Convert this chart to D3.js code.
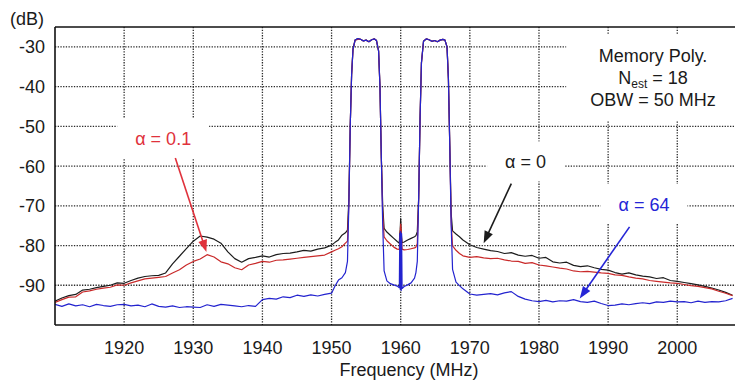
<!DOCTYPE html>
<html>
<head>
<meta charset="utf-8">
<script src="https://cdn.jsdelivr.net/npm/d3@7"></script>
<style>
  html, body { margin: 0; padding: 0; background: #fff; }
  svg text { font-family: "Liberation Sans", Arial, sans-serif; }
</style>
</head>
<body>
<svg id="chart" width="735" height="382"></svg>
<script>
// Frequency points (MHz): lower adjacent band, the two carriers, upper adjacent band
const freqLow = [
  1910, 1911, 1912, 1913, 1914, 1915, 1916, 1917, 1918, 1919,
  1920, 1921, 1922, 1923, 1924, 1925, 1926, 1927, 1928, 1929,
  1930, 1931, 1932, 1933, 1934, 1935, 1936, 1937, 1938, 1939,
  1940, 1941, 1942, 1943, 1944, 1945, 1946, 1947, 1948, 1949,
  1950
];
const freqCarrier = [
  1950.5, 1951, 1951.5, 1952, 1952.3, 1952.5, 1952.7, 1952.9, 1953.1, 1953.4,
  1953.8, 1954.2, 1954.6, 1955, 1955.4, 1955.8, 1956.2, 1956.5, 1956.8, 1957,
  1957.2, 1957.4, 1957.6, 1958, 1958.5, 1959, 1959.5, 1959.8, 1959.87, 1959.93,
  1960, 1960.07, 1960.13, 1960.2, 1960.5, 1961, 1961.5, 1962, 1962.2, 1962.4,
  1962.6, 1962.8, 1963, 1963.3, 1963.7, 1964.1, 1964.5, 1964.9, 1965.3, 1965.7,
  1966.1, 1966.4, 1966.7, 1966.9, 1967.1, 1967.3, 1967.5, 1968, 1968.5, 1969
];
const freqHigh = [
  1970, 1971, 1972, 1973, 1974, 1975, 1976, 1977, 1978, 1979,
  1980, 1981, 1982, 1983, 1984, 1985, 1986, 1987, 1988, 1989,
  1990, 1991, 1992, 1993, 1994, 1995, 1996, 1997, 1998, 1999,
  2000, 2001, 2002, 2003, 2004, 2005, 2006, 2007, 2008
];

// alpha = 0 (black)
const alpha0Low = [
  -94.0, -93.2, -92.6, -92.3, -91.2, -91.0, -90.6, -90.3, -90.0, -89.4,
  -89.5, -88.8, -88.2, -87.8, -87.6, -87.5, -86.9, -84.6, -82.7, -80.8,
  -78.9, -77.6, -77.9, -78.4, -79.4, -81.6, -83.3, -84.2, -83.3, -83.0,
  -82.6, -82.9, -82.3, -82.0, -81.9, -81.6, -81.2, -81.4, -80.9, -80.6,
  -79.9
];
const alpha0Carrier = [
  -79.2, -78.6, -77.4, -76.8, -76.1, -68.5, -50.0, -37.0, -30.6, -28.3,
  -27.9, -28.1, -28.5, -28.3, -28.7, -28.2, -28.0, -28.4, -31.0, -40.0,
  -58.0, -70.0, -75.7, -76.6, -77.4, -78.2, -79.0, -79.4, -77.0, -76.0,
  -73.2, -76.5, -78.0, -79.3, -79.1, -78.6, -78.2, -77.8, -77.5, -76.5,
  -68.0, -48.0, -34.0, -28.6, -28.0, -28.2, -28.6, -28.4, -28.7, -28.3,
  -28.1, -28.3, -30.0, -38.0, -55.0, -72.0, -76.3, -77.1, -77.8, -78.6
];
const alpha0High = [
  -79.8, -80.5, -80.9, -81.3, -81.5, -82.0, -81.8, -82.4, -82.7, -82.5,
  -83.2, -83.0, -84.1, -84.4, -84.2, -85.0, -85.3, -85.1, -85.6, -86.0,
  -86.2, -86.8, -87.2, -86.9, -87.4, -87.7, -87.9, -88.3, -88.1, -88.8,
  -89.0, -89.3, -89.6, -89.9, -90.3, -90.7, -91.2, -91.8, -92.5
];

// alpha = 0.1 (red)
const alpha01Low = [
  -94.3, -93.6, -93.0, -92.9, -91.7, -91.4, -91.0, -90.7, -90.5, -89.9,
  -90.0, -89.4, -88.9, -88.4, -88.2, -88.0, -87.8, -86.9, -86.1, -84.9,
  -84.0, -83.4, -82.3, -82.9, -84.1, -84.6, -85.6, -86.1, -84.9, -84.5,
  -84.0, -84.2, -83.7, -83.6, -83.4, -83.2, -83.0, -82.8, -82.6, -82.4,
  -81.6
];
const alpha01Carrier = [
  -81.2, -80.8, -80.3, -79.4, -78.9, -69.5, -50.0, -37.0, -30.6, -28.3,
  -28.1, -28.1, -28.5, -28.3, -28.7, -28.2, -28.0, -28.4, -31.0, -40.0,
  -58.0, -72.0, -77.8, -78.8, -79.6, -80.4, -80.9, -81.0, -78.0, -76.5,
  -74.6, -76.5, -78.5, -80.9, -81.1, -81.0, -80.8, -80.6, -80.4, -79.5,
  -68.0, -48.0, -34.0, -28.6, -28.0, -28.2, -28.6, -28.4, -28.7, -28.3,
  -28.1, -28.3, -30.0, -38.0, -55.0, -74.0, -80.1, -81.2, -82.0, -82.6
];
const alpha01High = [
  -83.0, -82.8, -83.1, -83.3, -83.2, -83.6, -83.9, -84.0, -84.5, -84.3,
  -84.9, -85.1, -85.4, -85.7, -85.9, -86.4, -86.6, -86.5, -86.7, -86.9,
  -87.0, -87.4, -87.5, -87.9, -88.2, -88.4, -88.8, -89.0, -89.2, -89.4,
  -89.5, -89.8, -90.1, -90.3, -90.6, -90.9, -91.5, -92.0, -92.6
];

// alpha = 64 (blue)
const alpha64Low = [
  -94.8, -95.3, -94.7, -95.2, -94.9, -95.4, -94.8, -95.1, -95.3, -94.9,
  -94.8, -95.2, -95.0, -95.4, -94.7, -95.3, -95.5, -95.2, -95.6, -95.4,
  -95.5, -95.6, -94.9, -95.3, -94.8, -95.0, -95.2, -95.4, -95.1, -95.3,
  -93.6, -93.3, -93.5, -92.9, -93.1, -92.5, -92.8, -92.4, -92.7, -92.3,
  -92.0
];
const alpha64Carrier = [
  -90.2, -88.7, -88.1, -86.8, -84.0, -70.0, -50.0, -37.0, -30.6, -28.3,
  -27.9, -28.1, -28.5, -28.3, -28.7, -28.2, -28.0, -28.4, -31.0, -40.0,
  -58.0, -75.0, -86.4, -88.9, -89.6, -89.9, -90.2, -90.6, -77.0, -91.0,
  -76.5, -91.3, -77.0, -90.8, -90.3, -89.9, -89.4, -88.2, -86.8, -84.0,
  -68.0, -48.0, -34.0, -28.6, -28.0, -28.2, -28.6, -28.4, -28.7, -28.3,
  -28.1, -28.3, -30.0, -38.0, -55.0, -75.0, -86.0, -89.2, -90.1, -90.9
];
const alpha64High = [
  -92.2, -92.5, -92.3, -92.1, -92.4, -91.9, -91.6, -92.8, -93.5, -93.9,
  -94.1, -93.8, -94.2, -93.9, -94.0, -93.6, -94.1, -94.3, -94.0, -94.6,
  -95.1, -95.0, -94.7, -94.9, -94.6, -94.4, -94.6, -94.2, -94.3, -94.0,
  -94.2, -94.1, -94.4, -94.0, -94.3, -94.1, -94.2, -93.9, -93.3
];

const xTicks = [1920, 1930, 1940, 1950, 1960, 1970, 1980, 1990, 2000];
const yTicks = [-30, -40, -50, -60, -70, -80, -90];

const freqs = freqLow.concat(freqCarrier, freqHigh);
const series = [
  { key: "a0", color: "#1c1c1c", values: alpha0Low.concat(alpha0Carrier, alpha0High) },
  { key: "a01", color: "#c92a2a", values: alpha01Low.concat(alpha01Carrier, alpha01High) },
  { key: "a64", color: "#2323cf", values: alpha64Low.concat(alpha64Carrier, alpha64High) },
];

// Annotation labels with arrows (positions in data units)
const notes = [
  { text: "α = 0.1", color: "#e0323c", at: [1921.6, -54.7], from: [1927.4, -58.0], to: [1931.9, -81.6] },
  { text: "α = 0", color: "#1c1c1c", at: [1975.1, -60.6], from: [1976.0, -64.4], to: [1972.0, -79.4] },
  { text: "α = 64", color: "#2525d6", at: [1991.5, -71.3], from: [1993.1, -75.3], to: [1985.9, -93.3] },
];

const svg = d3.select("#chart");
const margin = { left: 55, top: 27, right: 735, bottom: 325 };

const x = d3.scaleLinear().domain([1910, 2008.35]).range([margin.left, margin.right]);
const y = d3.scaleLinear().domain([-100, -25]).range([margin.bottom, margin.top]);

svg.append("defs").append("clipPath").attr("id", "plot")
  .append("rect")
  .attr("x", margin.left).attr("y", margin.top)
  .attr("width", margin.right - margin.left).attr("height", margin.bottom - margin.top);

// Dotted grid
const grid = svg.append("g").attr("stroke", "#2a2a2a").attr("stroke-width", 1.3)
  .attr("stroke-dasharray", "1.3,1.4");
grid.selectAll(".vx").data(xTicks).join("line")
  .attr("x1", d => x(d)).attr("x2", d => x(d))
  .attr("y1", margin.top).attr("y2", margin.bottom);
grid.selectAll(".hy").data(yTicks).join("line")
  .attr("x1", margin.left).attr("x2", margin.right)
  .attr("y1", d => y(d)).attr("y2", d => y(d));

// Layer for white boxes behind annotations (they cut the grid)
const boxes = svg.append("g");

// Spectrum traces
const line = d3.line()
  .x((d, i) => x(freqs[i]))
  .y(d => y(d));
svg.append("g").attr("clip-path", "url(#plot)")
  .selectAll("path").data(series).join("path")
  .attr("fill", "none")
  .attr("stroke", d => d.color)
  .attr("stroke-width", 1.2)
  .attr("stroke-linejoin", "round")
  .attr("d", d => line(d.values));

// Frame
const frame = svg.append("g").attr("stroke", "#111").attr("stroke-width", 1.6);
frame.append("line").attr("x1", margin.left).attr("x2", margin.left)
  .attr("y1", margin.top).attr("y2", margin.bottom);
frame.append("line").attr("x1", margin.left).attr("x2", margin.right)
  .attr("y1", margin.top).attr("y2", margin.top);
frame.append("line").attr("x1", margin.left).attr("x2", margin.right)
  .attr("y1", margin.bottom).attr("y2", margin.bottom);

// Tick labels
svg.append("g").selectAll("text").data(yTicks).join("text")
  .attr("x", 45).attr("y", d => y(d) + 6.5)
  .attr("text-anchor", "end").attr("font-size", 18).attr("fill", "#1a1a1a")
  .text(d => d);
svg.append("g").selectAll("text").data(xTicks).join("text")
  .attr("x", d => x(d)).attr("y", 354)
  .attr("text-anchor", "middle").attr("font-size", 18).attr("fill", "#1a1a1a")
  .text(d => d);

svg.append("text").attr("x", 10).attr("y", 25).attr("font-size", 18).attr("fill", "#1a1a1a")
  .text("(dB)");
svg.append("text").attr("x", 409).attr("y", 376).attr("text-anchor", "middle")
  .attr("font-size", 18).attr("fill", "#1a1a1a")
  .text("Frequency (MHz)");

// Arrows
function arrow(g, from, to, color) {
  const x0 = x(from[0]), y0 = y(from[1]), x1 = x(to[0]), y1 = y(to[1]);
  const len = Math.hypot(x1 - x0, y1 - y0);
  const ux = (x1 - x0) / len, uy = (y1 - y0) / len;
  const hl = 12, hw = 4.5;
  const bx = x1 - ux * hl, by = y1 - uy * hl;
  g.append("line").attr("x1", x0).attr("y1", y0).attr("x2", bx + ux * 2).attr("y2", by + uy * 2)
    .attr("stroke", color).attr("stroke-width", 1.6);
  g.append("path")
    .attr("d", `M${x1},${y1}L${bx - uy * hw},${by + ux * hw}L${bx + uy * hw},${by - ux * hw}Z`)
    .attr("fill", color);
}

const ann = svg.append("g");
notes.forEach(n => {
  const t = ann.append("text")
    .attr("x", x(n.at[0])).attr("y", y(n.at[1]))
    .attr("font-size", 18).attr("fill", n.color)
    .text(n.text);
  const b = t.node().getBBox();
  boxes.append("rect")
    .attr("x", b.x - 18).attr("y", b.y - 11)
    .attr("width", b.width + 36).attr("height", b.height + 20)
    .attr("fill", "#fff");
  arrow(ann, n.from, n.to, n.color);
});

// Info block
const info = ann.append("g").attr("font-size", 18).attr("fill", "#1a1a1a").attr("text-anchor", "middle");
info.append("text").attr("x", 653).attr("y", 61.5).text("Memory Poly.");
const nest = info.append("text").attr("x", 653).attr("y", 83.5);
nest.append("tspan").text("N");
nest.append("tspan").attr("font-size", 12).attr("dy", 4).text("est");
nest.append("tspan").attr("dy", -4).text(" = 18");
info.append("text").attr("x", 653).attr("y", 106).text("OBW = 50 MHz");
const ib = info.node().getBBox();
boxes.append("rect")
  .attr("x", ib.x - 24).attr("y", ib.y - 11)
  .attr("width", margin.right - ib.x + 24).attr("height", ib.height + 21)
  .attr("fill", "#fff");
</script>
</body>
</html>
